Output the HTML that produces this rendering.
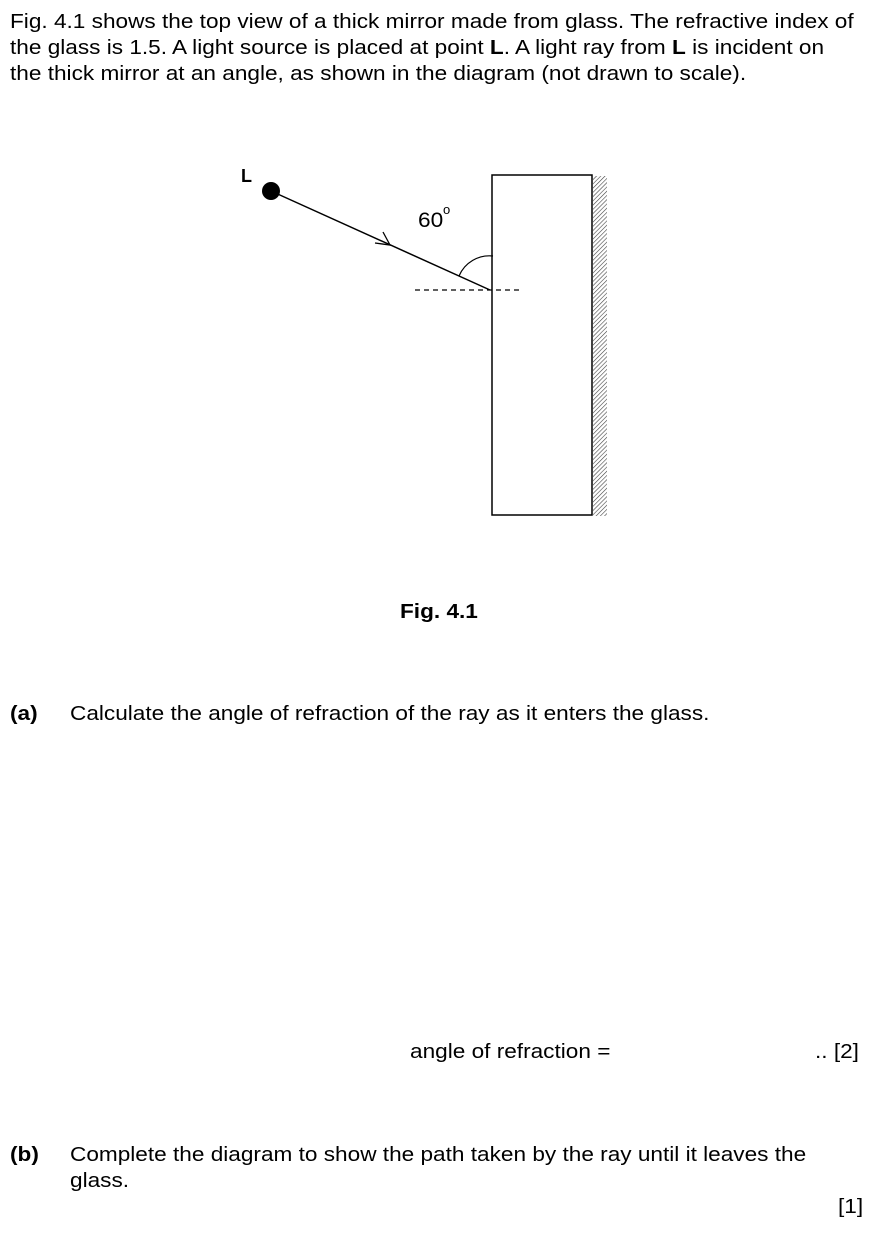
<!DOCTYPE html>
<html><head><style>
body{margin:0;width:880px;height:1238px;background:#fff;font-family:"Liberation Sans",Arial,sans-serif;font-size:20px;color:#000;position:relative;overflow:hidden}
.t{position:absolute;white-space:nowrap;line-height:26px;transform:scaleX(1.13);transform-origin:0 0}
</style></head><body>
<div class="t" style="left:10px;top:9px">Fig. 4.1 shows the top view of a thick mirror made from glass. The refractive index of</div>
<div class="t" style="left:10px;top:35px">the glass is 1.5. A light source is placed at point <b>L</b>. A light ray from <b>L</b> is incident on</div>
<div class="t" style="left:10px;top:61px">the thick mirror at an angle, as shown in the diagram (not drawn to scale).</div>
<svg style="position:absolute;left:0;top:0" width="880" height="560">
<defs><pattern id="h" width="3" height="3" patternUnits="userSpaceOnUse" patternTransform="rotate(45)"><line x1="0" y1="0" x2="0" y2="3" stroke="#444" stroke-width="1.2"/></pattern></defs>
<text x="241" y="182" font-family="Liberation Sans" font-weight="bold" font-size="18">L</text>
<circle cx="271" cy="191" r="9" fill="#000"/>
<line x1="271" y1="191" x2="490" y2="290" stroke="#000" stroke-width="1.5"/>
<polyline points="375,243 390,245 383,232" fill="none" stroke="#000" stroke-width="1.3"/>
<line x1="415" y1="290" x2="520" y2="290" stroke="#000" stroke-width="1.2" stroke-dasharray="5,4"/>
<path d="M459,276 A33,33 0 0 1 493,256" fill="none" stroke="#000" stroke-width="1.2"/>
<text x="418" y="227" font-family="Liberation Sans" font-size="21" transform="translate(418,0) scale(1.08,1) translate(-418,0)">60</text>
<text x="443" y="214" font-family="Liberation Sans" font-size="13">o</text>
<rect x="492" y="175" width="100" height="340" fill="none" stroke="#000" stroke-width="1.5"/>
<rect x="593" y="176" width="14" height="340" fill="url(#h)"/>
</svg>
<div class="t" style="left:400px;top:599px;font-weight:bold">Fig. 4.1</div>
<div class="t" style="left:10px;top:701px;font-weight:bold">(a)</div>
<div class="t" style="left:70px;top:701px">Calculate the angle of refraction of the ray as it enters the glass.</div>
<div class="t" style="left:410px;top:1039px">angle of refraction =</div>
<div class="t" style="left:815px;top:1039px">.. [2]</div>
<div class="t" style="left:10px;top:1142px;font-weight:bold">(b)</div>
<div class="t" style="left:70px;top:1142px">Complete the diagram to show the path taken by the ray until it leaves the</div>
<div class="t" style="left:70px;top:1168px">glass.</div>
<div class="t" style="left:838px;top:1194px">[1]</div>
</body></html>
